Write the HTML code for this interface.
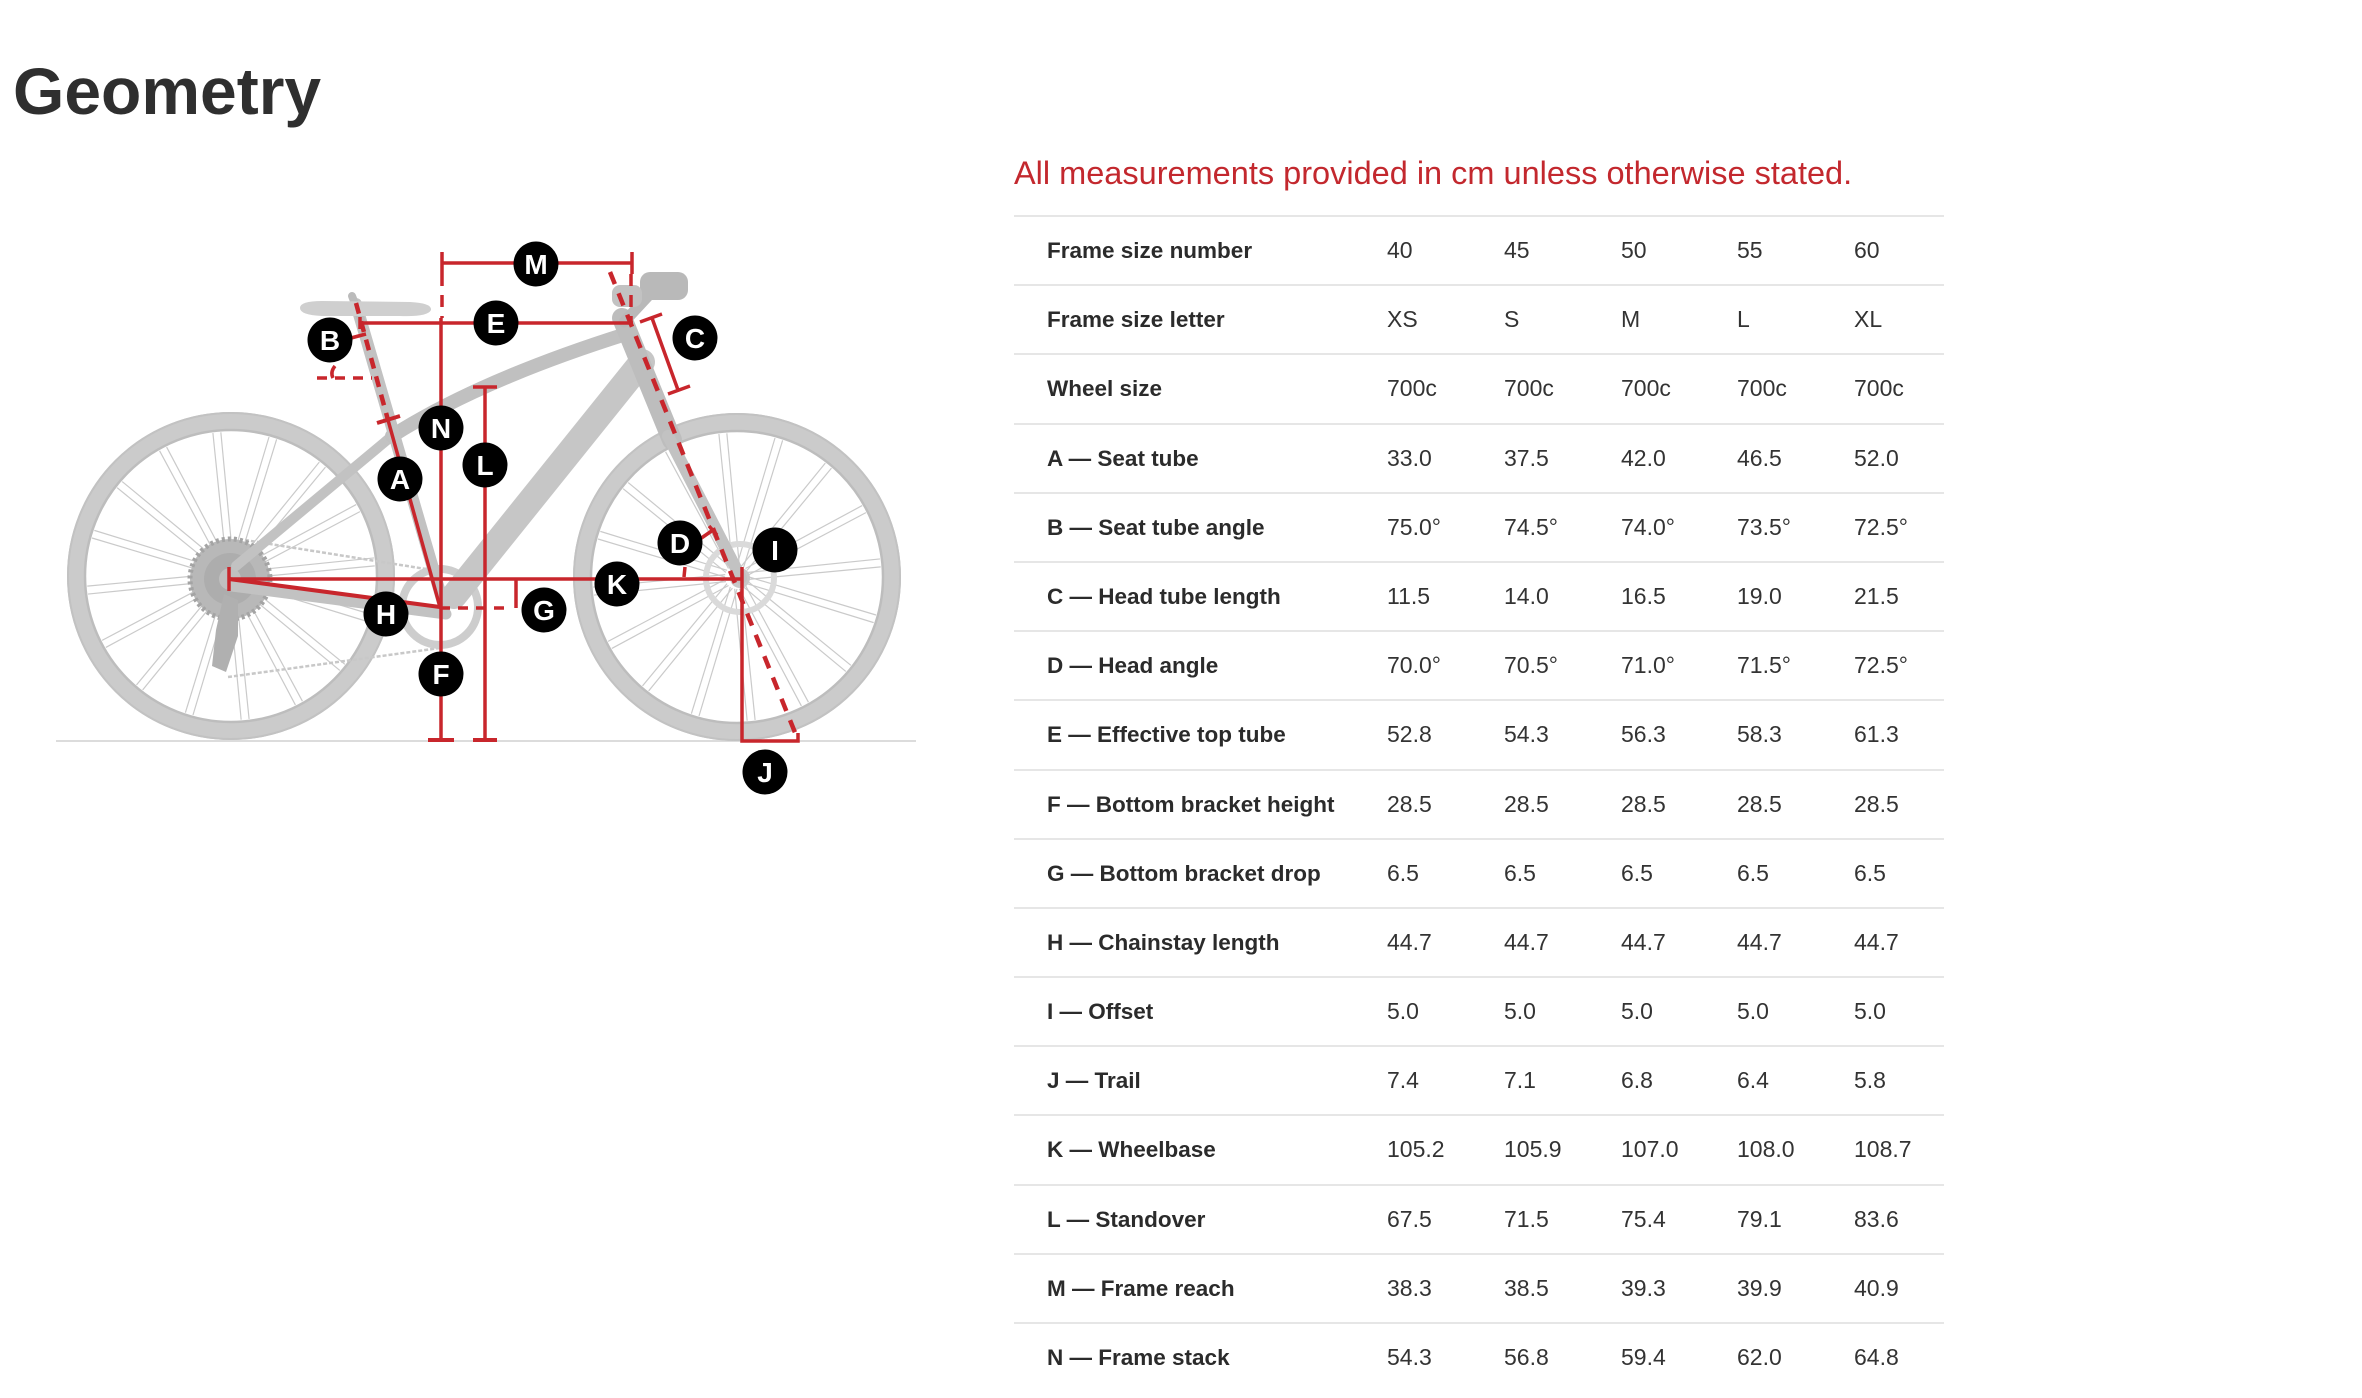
<!DOCTYPE html>
<html><head><meta charset="utf-8">
<style>
html,body{margin:0;padding:0;background:#fff;}
body{width:2362px;height:1398px;position:relative;overflow:hidden;font-family:"Liberation Sans",Arial,sans-serif;}
h1{position:absolute;left:13px;top:51px;margin:0;font-size:66px;line-height:80px;font-weight:bold;color:#2f2f2f;white-space:nowrap;}
.note{position:absolute;left:1014px;top:153px;font-size:32.5px;line-height:40px;color:#c3282e;white-space:nowrap;}
.tbl{position:absolute;left:1014px;top:215px;width:930px;}
.row{position:relative;height:69.2px;box-sizing:border-box;border-top:2px solid #e6e6e6;line-height:67.2px;white-space:nowrap;}
.row b{position:absolute;top:0;left:33px;font-size:22.5px;color:#2b2b2b;}
.row span{position:absolute;top:0;font-size:23px;color:#333;}
.c1{left:373px}.c2{left:490px}.c3{left:607px}.c4{left:723px}.c5{left:840px}
svg{position:absolute;left:0;top:0;}
</style></head>
<body>
<h1>Geometry</h1>

<svg width="1000" height="820" viewBox="0 0 1000 820">
<defs>
<line id="sa" x1="0" y1="-12" x2="38" y2="-139"/>
<line id="sb" x1="0" y1="-12" x2="-38" y2="-139"/>
<g id="spk" stroke="#cacaca" stroke-width="1.2">
<use href="#sa" transform="rotate(0)"/><use href="#sa" transform="rotate(22.5)"/><use href="#sa" transform="rotate(45)"/><use href="#sa" transform="rotate(67.5)"/>
<use href="#sa" transform="rotate(90)"/><use href="#sa" transform="rotate(112.5)"/><use href="#sa" transform="rotate(135)"/><use href="#sa" transform="rotate(157.5)"/>
<use href="#sa" transform="rotate(180)"/><use href="#sa" transform="rotate(202.5)"/><use href="#sa" transform="rotate(225)"/><use href="#sa" transform="rotate(247.5)"/>
<use href="#sa" transform="rotate(270)"/><use href="#sa" transform="rotate(292.5)"/><use href="#sa" transform="rotate(315)"/><use href="#sa" transform="rotate(337.5)"/>
<use href="#sb" transform="rotate(11.25)"/><use href="#sb" transform="rotate(33.75)"/><use href="#sb" transform="rotate(56.25)"/><use href="#sb" transform="rotate(78.75)"/>
<use href="#sb" transform="rotate(101.25)"/><use href="#sb" transform="rotate(123.75)"/><use href="#sb" transform="rotate(146.25)"/><use href="#sb" transform="rotate(168.75)"/>
<use href="#sb" transform="rotate(191.25)"/><use href="#sb" transform="rotate(213.75)"/><use href="#sb" transform="rotate(236.25)"/><use href="#sb" transform="rotate(258.75)"/>
<use href="#sb" transform="rotate(281.25)"/><use href="#sb" transform="rotate(303.75)"/><use href="#sb" transform="rotate(326.25)"/><use href="#sb" transform="rotate(348.75)"/>
</g>
<g id="wheel">
<use href="#spk"/>
<circle r="155" fill="none" stroke="#cbcbcb" stroke-width="18"/>
<circle r="146" fill="none" stroke="#bdbdbd" stroke-width="2.5"/>
<circle r="163" fill="none" stroke="#c2c2c2" stroke-width="2"/>
</g>
</defs>

<line x1="56" y1="741" x2="916" y2="741" stroke="#dcdcdc" stroke-width="2"/>

<use href="#wheel" transform="translate(231,576)"/>
<use href="#wheel" transform="translate(737,577)"/>
<circle cx="740" cy="578" r="34" fill="none" stroke="#dadada" stroke-width="6"/>
<circle cx="740" cy="578" r="10" fill="#c8c8c8"/>

<path d="M245,540 L432,570" stroke="#c8c8c8" stroke-width="2.5" stroke-dasharray="4 2" fill="none"/>
<path d="M228,677 L440,648" stroke="#c8c8c8" stroke-width="2.5" stroke-dasharray="4 2" fill="none"/>
<circle cx="230" cy="579" r="40" fill="#b8b8b8" stroke="#a4a4a4" stroke-width="5" stroke-dasharray="3 3"/>
<circle cx="230" cy="579" r="26" fill="#adadad"/>
<circle cx="230" cy="579" r="11" fill="#c0c0c0"/>
<path d="M224,594 L238,600 L238,636 L226,672 L212,666 L216,630 Z" fill="#b0b0b0"/>
<circle cx="440" cy="607" r="38" fill="none" stroke="#cdcdcd" stroke-width="8"/>

<g fill="none" stroke-linecap="round">
<path d="M232,586 L446,614" stroke="#c2c2c2" stroke-width="11"/>
<path d="M236,566 L392,436" stroke="#c2c2c2" stroke-width="10"/>
<path d="M392,436 Q480,380 626,334" stroke="#c0c0c0" stroke-width="14"/>
<path d="M356,304 L444,606" stroke="#c2c2c2" stroke-width="12"/>
<path d="M642,362 L454,596" stroke="#c6c6c6" stroke-width="26"/>
<path d="M622,318 L672,440" stroke="#bdbdbd" stroke-width="20"/>
<path d="M668,436 L741,578" stroke="#c2c2c2" stroke-width="12"/>
<path d="M352,296 L362,322" stroke="#bbbbbb" stroke-width="8"/>
<path d="M624,322 L650,294" stroke="#b9b9b9" stroke-width="11"/>
</g>
<path d="M300,308 Q300,301 322,301 L410,302 Q432,303 431,310 Q428,317 400,316 L322,316 Q300,315 300,308 Z" fill="#cfcfcf"/>
<rect x="640" y="272" width="48" height="28" rx="10" fill="#b9b9b9"/>
<rect x="612" y="285" width="30" height="22" rx="8" fill="#c2c2c2"/>

<g stroke="#c8262c" fill="none" stroke-width="3.5">
<path d="M442,263 L632,263 M442,252 L442,274 M632,252 L632,274"/>
<path d="M442,274 L442,318" stroke-dasharray="12 9"/>
<path d="M631,274 L631,322" stroke-dasharray="12 9"/>
<path d="M441,318 L441,740"/>
<path d="M428,740 L454,740 M473,740 L497,740" stroke-width="4"/>
<path d="M360,323 L633,323 M360,317 L360,329"/>
<path d="M485,387 L485,740 M473,387 L497,387"/>
<path d="M652,318 L678,390 M640,322 L662,314 M668,394 L690,386"/>
<path d="M610,272 L798,740" stroke-dasharray="13 10" stroke-width="4.5"/>
<path d="M356,303 L388,420" stroke-dasharray="11 8" stroke-width="4.5"/>
<path d="M388,420 L440,607"/>
<path d="M377,423 L400,416" stroke-width="4"/>
<path d="M317,378 L372,378" stroke-dasharray="10 8"/>
<path d="M335,366 Q330,372 333,378"/>
<path d="M351,338 L366,334"/>
<path d="M229,579 L742,579 M229,567 L229,591"/>
<path d="M229,579 L440,607" stroke-width="4"/>
<path d="M440,608 L507,608" stroke-dasharray="10 8"/>
<path d="M516,579 L516,608"/>
<path d="M742,567 L742,741 L798,741 L798,733"/>
<path d="M700,539 L713,530 M709,526 L717,535"/>
<path d="M684,577 L685,567"/>
</g>

<g fill="#000">
<circle cx="536" cy="264" r="22.5"/>
<circle cx="496" cy="323" r="22.5"/>
<circle cx="330" cy="340" r="22.5"/>
<circle cx="695" cy="338" r="22.5"/>
<circle cx="441" cy="428" r="22.5"/>
<circle cx="485" cy="465" r="22.5"/>
<circle cx="400" cy="479" r="22.5"/>
<circle cx="680" cy="543" r="22.5"/>
<circle cx="775" cy="550" r="22.5"/>
<circle cx="617" cy="584" r="22.5"/>
<circle cx="386" cy="614" r="22.5"/>
<circle cx="544" cy="610" r="22.5"/>
<circle cx="441" cy="674" r="22.5"/>
<circle cx="765" cy="772" r="22.5"/>
</g>
<g font-family="Liberation Sans, Arial, sans-serif" font-weight="bold" font-size="28" fill="#fff" text-anchor="middle">
<text x="536" y="274">M</text>
<text x="496" y="333">E</text>
<text x="330" y="350">B</text>
<text x="695" y="348">C</text>
<text x="441" y="438">N</text>
<text x="485" y="475">L</text>
<text x="400" y="489">A</text>
<text x="680" y="553">D</text>
<text x="775" y="560">I</text>
<text x="617" y="594">K</text>
<text x="386" y="624">H</text>
<text x="544" y="620">G</text>
<text x="441" y="684">F</text>
<text x="765" y="782">J</text>
</g>
</svg>

<div class="note">All measurements provided in cm unless otherwise stated.</div>

<div class="tbl">
<div class="row"><b>Frame size number</b><span class="c1">40</span><span class="c2">45</span><span class="c3">50</span><span class="c4">55</span><span class="c5">60</span></div>
<div class="row"><b>Frame size letter</b><span class="c1">XS</span><span class="c2">S</span><span class="c3">M</span><span class="c4">L</span><span class="c5">XL</span></div>
<div class="row"><b>Wheel size</b><span class="c1">700c</span><span class="c2">700c</span><span class="c3">700c</span><span class="c4">700c</span><span class="c5">700c</span></div>
<div class="row"><b>A — Seat tube</b><span class="c1">33.0</span><span class="c2">37.5</span><span class="c3">42.0</span><span class="c4">46.5</span><span class="c5">52.0</span></div>
<div class="row"><b>B — Seat tube angle</b><span class="c1">75.0°</span><span class="c2">74.5°</span><span class="c3">74.0°</span><span class="c4">73.5°</span><span class="c5">72.5°</span></div>
<div class="row"><b>C — Head tube length</b><span class="c1">11.5</span><span class="c2">14.0</span><span class="c3">16.5</span><span class="c4">19.0</span><span class="c5">21.5</span></div>
<div class="row"><b>D — Head angle</b><span class="c1">70.0°</span><span class="c2">70.5°</span><span class="c3">71.0°</span><span class="c4">71.5°</span><span class="c5">72.5°</span></div>
<div class="row"><b>E — Effective top tube</b><span class="c1">52.8</span><span class="c2">54.3</span><span class="c3">56.3</span><span class="c4">58.3</span><span class="c5">61.3</span></div>
<div class="row"><b>F — Bottom bracket height</b><span class="c1">28.5</span><span class="c2">28.5</span><span class="c3">28.5</span><span class="c4">28.5</span><span class="c5">28.5</span></div>
<div class="row"><b>G — Bottom bracket drop</b><span class="c1">6.5</span><span class="c2">6.5</span><span class="c3">6.5</span><span class="c4">6.5</span><span class="c5">6.5</span></div>
<div class="row"><b>H — Chainstay length</b><span class="c1">44.7</span><span class="c2">44.7</span><span class="c3">44.7</span><span class="c4">44.7</span><span class="c5">44.7</span></div>
<div class="row"><b>I — Offset</b><span class="c1">5.0</span><span class="c2">5.0</span><span class="c3">5.0</span><span class="c4">5.0</span><span class="c5">5.0</span></div>
<div class="row"><b>J — Trail</b><span class="c1">7.4</span><span class="c2">7.1</span><span class="c3">6.8</span><span class="c4">6.4</span><span class="c5">5.8</span></div>
<div class="row"><b>K — Wheelbase</b><span class="c1">105.2</span><span class="c2">105.9</span><span class="c3">107.0</span><span class="c4">108.0</span><span class="c5">108.7</span></div>
<div class="row"><b>L — Standover</b><span class="c1">67.5</span><span class="c2">71.5</span><span class="c3">75.4</span><span class="c4">79.1</span><span class="c5">83.6</span></div>
<div class="row"><b>M — Frame reach</b><span class="c1">38.3</span><span class="c2">38.5</span><span class="c3">39.3</span><span class="c4">39.9</span><span class="c5">40.9</span></div>
<div class="row"><b>N — Frame stack</b><span class="c1">54.3</span><span class="c2">56.8</span><span class="c3">59.4</span><span class="c4">62.0</span><span class="c5">64.8</span></div>
</div>
</body></html>
